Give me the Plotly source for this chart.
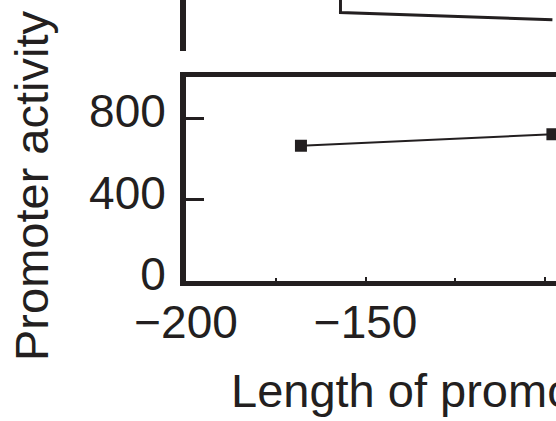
import plotly.graph_objects as go

# Bottom panel (promoter activity, lower scale)
len_bottom = [-168, -98]
act_bottom = [665, 721]

# Top panel (upper scale; only a fragment visible)
len_top = [-157, -157, -98]
act_top = [3800, 3377, 3305]

x_ticks = [-200, -150, -100]
y_ticks = [0, 400, 800]

INK = "#231f20"
FONT = "Liberation Sans, Arial, Helvetica, sans-serif"

fig = go.Figure()

fig.add_trace(go.Scatter(
    x=len_top, y=act_top, xaxis="x", yaxis="y",
    mode="lines", line=dict(color=INK, width=3), showlegend=False,
))
fig.add_trace(go.Scatter(
    x=len_bottom, y=act_bottom, xaxis="x2", yaxis="y2",
    mode="lines+markers", line=dict(color=INK, width=2),
    marker=dict(symbol="square", size=12, color=INK), showlegend=False,
))

xr = [-200, -97]

fig.update_layout(
    width=556, height=421, autosize=False,
    margin=dict(l=186, r=0, t=0, b=140, autoexpand=False),
    paper_bgcolor="white", plot_bgcolor="white",
    font=dict(family=FONT, color=INK, size=46),
    xaxis=dict(domain=[0, 1], range=xr, visible=False, anchor="y", automargin=False),
    yaxis=dict(domain=[0.8196, 1], range=[3000, 3500], anchor="x", automargin=False,
               showline=True, linewidth=6, linecolor=INK,
               showticklabels=False, ticks="", showgrid=False, zeroline=False),
    xaxis2=dict(domain=[0, 1], range=xr, anchor="y2", automargin=False,
                showline=True, linewidth=5, linecolor=INK, mirror=True,
                tickvals=x_ticks, ticks="inside", ticklen=4, tickwidth=2, tickcolor=INK,
                minor=dict(dtick=25, tick0=-200, ticks="inside", ticklen=3, tickwidth=2, tickcolor=INK),
                showgrid=False, zeroline=False, ticklabelstandoff=-3,
                tickfont=dict(family=FONT, size=46, color=INK)),
    yaxis2=dict(domain=[0, 0.7242], range=[0, 1000], anchor="x2", automargin=False,
                showline=True, linewidth=6, linecolor=INK,
                tickvals=y_ticks, ticks="inside", ticklen=18, tickwidth=2.5, tickcolor=INK,
                showgrid=False, zeroline=False, ticklabelstandoff=5, ticklabelshift=-7,
                tickfont=dict(family=FONT, size=46, color=INK)),
    annotations=[
        dict(text="Promoter activity", xref="paper", yref="paper",
             x=(31 - 186) / 370, y=(281 - 186) / 281, xanchor="center", yanchor="middle",
             textangle=-90, showarrow=False, font=dict(family=FONT, size=47, color=INK)),
        dict(text="Length of promoter (bp)", xref="paper", yref="paper",
             x=(229 - 186) / 370, y=(281 - 390) / 281, xanchor="left", yanchor="middle",
             showarrow=False, font=dict(family=FONT, size=47, color=INK)),
    ],
)

fig.write_html(
    "out.html",
    config={"displayModeBar": False},
    post_script="document.body.style.margin='0';document.body.style.overflow='hidden';",
)
